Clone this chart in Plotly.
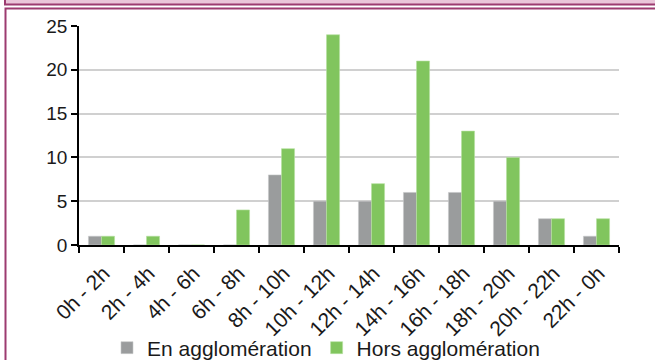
import plotly.graph_objects as go

categories = ["0h - 2h", "2h - 4h", "4h - 6h", "6h - 8h", "8h - 10h", "10h - 12h",
              "12h - 14h", "14h - 16h", "16h - 18h", "18h - 20h", "20h - 22h", "22h - 0h"]
en_agglo = [1, 0, 0, 0, 8, 5, 5, 6, 6, 5, 3, 1]
hors_agglo = [1, 1, 0, 4, 11, 24, 7, 21, 13, 10, 3, 3]
y_ticks = [0, 5, 10, 15, 20, 25]

W, H = 655, 360
L, R, T, B = 79, 619, 26, 245
FONT = "Liberation Sans, Arial, sans-serif"


def px(x):
    return (x - L) / (R - L)


def py(y):
    return (B - y) / (B - T)


fig = go.Figure()
fig.add_trace(go.Bar(name="En agglomération", x=categories, y=en_agglo,
                     marker=dict(color="#9A9C9D", line=dict(color="#C8CACB", width=0.6))))
fig.add_trace(go.Bar(name="Hors agglomération", x=categories, y=hors_agglo,
                     marker=dict(color="#81C55E", line=dict(color="#B5E0A0", width=0.6))))

fig.update_layout(
    width=W, height=H,
    margin=dict(l=L, r=W - R, t=T, b=H - B, pad=0, autoexpand=False),
    paper_bgcolor="white", plot_bgcolor="white",
    barmode="group", bargap=0.42, bargroupgap=0,
    font=dict(family=FONT, size=19, color="#1a1a1a"),
    showlegend=True,
    legend=dict(orientation="h", x=px(326), xanchor="center", y=py(348), yanchor="middle",
                font=dict(size=21), itemwidth=30, bgcolor="rgba(0,0,0,0)"),
    xaxis=dict(showline=True, linecolor="black", linewidth=1.5, ticks="outside",
               tickson="boundaries", ticklen=6, tickwidth=1.5, tickcolor="black",
               tickangle=-45, showgrid=False, tickfont=dict(size=21), automargin=False,
               ticklabelstandoff=6, ticklabelshift=2),
    yaxis=dict(range=[0, 25], tickvals=y_ticks, showline=True, linecolor="black",
               linewidth=1.5, ticks="outside", ticklen=6, tickwidth=1.5, tickcolor="black",
               showgrid=True, gridcolor="#D0D0D0", gridwidth=1.5, zeroline=False,
               tickfont=dict(size=19), automargin=False),
    shapes=[
        dict(type="rect", xref="paper", yref="paper", x0=px(5), x1=px(700), y0=py(-10), y1=py(4.5),
             fillcolor="#EAC5D9", line=dict(color="#9C3B70", width=2), layer="above"),
        dict(type="rect", xref="paper", yref="paper", x0=px(5.5), x1=px(700), y0=py(8.5), y1=py(420),
             fillcolor="rgba(0,0,0,0)", line=dict(color="#9C3B70", width=2), layer="above"),
    ],
)

fig.write_html("out.html", config={"displayModeBar": False},
               post_script="document.body.style.margin='0';document.body.style.overflow='hidden';")
